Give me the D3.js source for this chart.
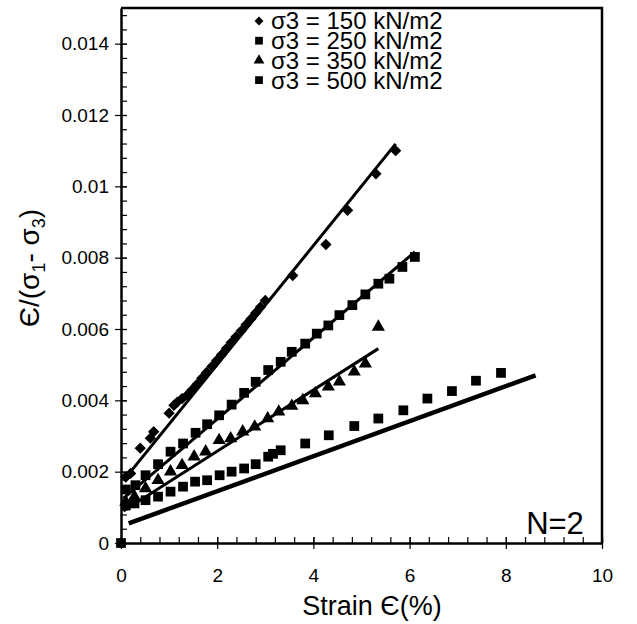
<!DOCTYPE html>
<html>
<head>
<meta charset="utf-8">
<script src="https://cdn.jsdelivr.net/npm/d3@7"></script>
<style>
  body { margin: 0; background: #fff; }
  svg { display: block; font-family: "Liberation Sans", Arial, sans-serif; }
</style>
</head>
<body>
<div id="chart"></div>
<script>
// strain (%) and strain / deviator stress for each confining pressure
const strain150 = [0.1, 0.2, 0.4, 0.61, 0.68, 1.0, 1.1, 1.17, 1.27, 1.38, 1.48, 1.58, 1.68, 1.78, 1.89, 1.99,
  2.09, 2.19, 2.29, 2.39, 2.5, 2.6, 2.7, 2.8, 2.9, 3.0, 3.57, 4.26, 4.71, 5.3, 5.71];
const ratio150 = [0.00185, 0.00195, 0.00266, 0.00294, 0.00312, 0.00364, 0.00386, 0.00395, 0.00405, 0.00415, 0.0043,
  0.00445, 0.00462, 0.00478, 0.00495, 0.00512, 0.00528, 0.00545, 0.00562, 0.00578, 0.00595, 0.00612, 0.00628,
  0.00645, 0.00662, 0.0068, 0.0075, 0.00837, 0.00933, 0.01035, 0.011];

const strain250 = [0.1, 0.3, 0.51, 0.77, 1.03, 1.29, 1.55, 1.79, 2.04, 2.3, 2.56, 2.8, 3.06, 3.32, 3.55, 3.83,
  4.07, 4.31, 4.54, 4.81, 5.08, 5.35, 5.58, 5.85, 6.11];
const ratio250 = [0.0015, 0.00162, 0.0019, 0.00221, 0.00256, 0.00279, 0.00309, 0.00333, 0.00358, 0.00388, 0.00421,
  0.00452, 0.00485, 0.00508, 0.00536, 0.00559, 0.00587, 0.0061, 0.00639, 0.00667, 0.00697, 0.00727, 0.00741,
  0.00774, 0.00802];

const strain350 = [0.1, 0.28, 0.51, 0.77, 1.03, 1.27, 1.52, 1.76, 2.04, 2.28, 2.53, 2.78, 3.05, 3.28, 3.55, 3.78,
  4.04, 4.31, 4.54, 4.85, 5.08, 5.35];
const ratio350 = [0.00115, 0.0013, 0.00153, 0.00176, 0.002, 0.00218, 0.00242, 0.00256, 0.00288, 0.00293, 0.00312,
  0.00326, 0.00349, 0.00368, 0.00384, 0.004, 0.00419, 0.00438, 0.00452, 0.0048, 0.00503, 0.00606];

const strain500 = [0, 0.1, 0.28, 0.51, 0.77, 1.03, 1.29, 1.54, 1.79, 2.05, 2.3, 2.56, 2.8, 3.06, 3.16, 3.32, 3.83,
  4.32, 4.85, 5.35, 5.87, 6.37, 6.88, 7.38, 7.9];
const ratio500 = [0, 0.00105, 0.00111, 0.0012, 0.0013, 0.00144, 0.00158, 0.00172, 0.00176, 0.0019, 0.002, 0.00209,
  0.00221, 0.00242, 0.0025, 0.0026, 0.00279, 0.00302, 0.00328, 0.00349, 0.00372, 0.00405, 0.00426, 0.00455, 0.00477];

// fitted straight lines, start and end point
const fit150 = [[0.05, 0.00175], [5.71, 0.01119]];
const fit250 = [[0.05, 0.00125], [6.11, 0.00816]];
const fit350 = [[0.05, 0.0009], [5.35, 0.00545]];
const fit500 = [[0.16, 0.00055], [8.62, 0.0047]];

const legendLabels = ['σ3 = 150 kN/m2', 'σ3 = 250 kN/m2', 'σ3 = 350 kN/m2', 'σ3 = 500 kN/m2'];
const xTicks = [0, 2, 4, 6, 8, 10];
const yTicks = [0, 0.002, 0.004, 0.006, 0.008, 0.01, 0.012, 0.014];

const width = 637;
const height = 624;
const plotLeft = 121, plotRight = 602, plotTop = 8, plotBottom = 543;

const svg = d3.select('#chart')
  .append('svg')
  .attr('width', width)
  .attr('height', height);

svg.append('rect').attr('width', width).attr('height', height).attr('fill', '#fff');

const x = d3.scaleLinear().domain([0, 10]).range([plotLeft, plotRight]);
const y = d3.scaleLinear().domain([0, 0.015]).range([plotBottom, plotTop]);

// frame: top and right border
svg.append('path')
  .attr('d', `M${plotLeft},${plotTop}H${plotRight}V${plotBottom}`)
  .attr('fill', 'none')
  .attr('stroke', '#000')
  .attr('stroke-width', 2.5);

// minor ticks (inside)
svg.append('g')
  .attr('transform', `translate(0,${plotBottom})`)
  .call(d3.axisTop(x).tickValues(d3.range(0, 10.01, 0.4)).tickSize(6).tickFormat(''))
  .call(g => g.select('.domain').remove())
  .call(g => g.selectAll('line').attr('stroke-width', 1.2));
svg.append('g')
  .attr('transform', `translate(${plotLeft},0)`)
  .call(d3.axisRight(y).tickValues(d3.range(0, 0.01501, 0.0004)).tickSize(6).tickFormat(''))
  .call(g => g.select('.domain').remove())
  .call(g => g.selectAll('line').attr('stroke-width', 1.2));

// major axes
const xAxis = svg.append('g')
  .attr('transform', `translate(0,${plotBottom})`)
  .call(d3.axisBottom(x).tickValues(xTicks).tickSizeInner(6).tickSizeOuter(0).tickPadding(20).tickFormat(d3.format('d')));
xAxis.selectAll('.tick line').attr('y1', -6).attr('stroke-width', 1.2);

const yAxis = svg.append('g')
  .attr('transform', `translate(${plotLeft},0)`)
  .call(d3.axisLeft(y).tickValues(yTicks).tickSizeInner(6).tickSizeOuter(0).tickPadding(6)
    .tickFormat(d => d === 0 ? '0' : String(+d.toFixed(3))));
yAxis.selectAll('.tick line').attr('x1', 6).attr('stroke-width', 1.2);

[xAxis, yAxis].forEach(a => {
  a.select('.domain').attr('stroke-width', 2.5);
  a.selectAll('.tick text')
    .attr('font-family', '"Liberation Sans", Arial, sans-serif')
    .attr('font-size', 19)
    .attr('fill', '#000');
});
xAxis.selectAll('.tick text').attr('dy', '0.71em');

// axis titles
svg.append('text')
  .attr('x', 372)
  .attr('y', 615)
  .attr('text-anchor', 'middle')
  .attr('font-size', 27)
  .text('Strain Є(%)');

const yTitle = svg.append('text')
  .attr('transform', 'translate(39,268) rotate(-90)')
  .attr('text-anchor', 'middle')
  .attr('font-size', 28);
yTitle.append('tspan').text('Є/(σ');
yTitle.append('tspan').attr('font-size', 18).attr('dy', 6).text('1');
yTitle.append('tspan').attr('dy', -6).text('- σ');
yTitle.append('tspan').attr('font-size', 18).attr('dy', 6).text('3');
yTitle.append('tspan').attr('dy', -6).text(')');

// fitted lines
const line = d3.line().x(d => x(d[0])).y(d => y(d[1]));
[[fit150, 3], [fit250, 3], [fit350, 3], [fit500, 4.5]].forEach(([pts, w]) => {
  svg.append('path')
    .attr('d', line(pts))
    .attr('fill', 'none')
    .attr('stroke', '#000')
    .attr('stroke-width', w);
});

// markers
const diamond = d3.symbol().type(d3.symbolSquare).size(64);
const square = d3.symbol().type(d3.symbolSquare).size(95);
const triangle = d3.symbol().type(d3.symbolTriangle).size(75);

function plotSeries(xs, ys, sym, rotate) {
  svg.append('g')
    .selectAll('path')
    .data(xs.map((v, i) => [v, ys[i]]))
    .join('path')
    .attr('d', sym)
    .attr('transform', d => `translate(${x(d[0])},${y(d[1])})` + (rotate ? ' rotate(45)' : ''))
    .attr('fill', '#000');
}
plotSeries(strain500, ratio500, square, false);
plotSeries(strain350, ratio350, triangle, false);
plotSeries(strain250, ratio250, square, false);
plotSeries(strain150, ratio150, diamond, true);

// legend
const legendSyms = [[d3.symbol().type(d3.symbolSquare).size(40), true],
  [d3.symbol().type(d3.symbolSquare).size(60), false],
  [d3.symbol().type(d3.symbolTriangle).size(50), false],
  [d3.symbol().type(d3.symbolSquare).size(60), false]];
const legend = svg.append('g');
legendLabels.forEach((label, i) => {
  const cy = 21 + i * 19.7;
  legend.append('path')
    .attr('d', legendSyms[i][0])
    .attr('transform', `translate(259,${cy})` + (legendSyms[i][1] ? ' rotate(45)' : ''))
    .attr('fill', '#000');
  legend.append('text')
    .attr('x', 271)
    .attr('y', cy)
    .attr('dy', '0.35em')
    .attr('font-size', 24)
    .text(label);
});

svg.append('text')
  .attr('x', 555)
  .attr('y', 523)
  .attr('dy', '0.35em')
  .attr('text-anchor', 'middle')
  .attr('font-size', 31)
  .text('N=2');
</script>
</body>
</html>
